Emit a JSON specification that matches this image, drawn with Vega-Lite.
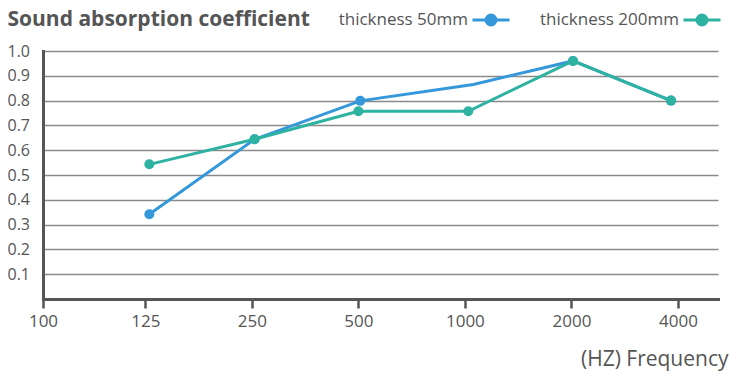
{
  "$schema": "https://vega.github.io/schema/vega-lite/v6.json",
  "width": 675,
  "height": 248,
  "autosize": "none",
  "padding": {"left": 43, "top": 51, "right": 13, "bottom": 73},
  "background": "white",
  "config": {"font": "Open Sans", "view": {"stroke": null}},
  "data": {
    "values": [
      {"series": "thickness 50mm", "freq": "125", "x": 1.038, "y": 0.342},
      {"series": "thickness 50mm", "freq": "250", "x": 2.026, "y": 0.644},
      {"series": "thickness 50mm", "freq": "500", "x": 3.018, "y": 0.799},
      {"series": "thickness 50mm", "freq": "1000", "x": 4.079, "y": 0.865},
      {"series": "thickness 50mm", "freq": "2000", "x": 5.015, "y": 0.96},
      {"series": "thickness 50mm", "freq": "4000", "x": 5.935, "y": 0.8},
      {"series": "thickness 200mm", "freq": "125", "x": 1.038, "y": 0.543},
      {"series": "thickness 200mm", "freq": "250", "x": 2.026, "y": 0.644},
      {"series": "thickness 200mm", "freq": "500", "x": 3.0, "y": 0.757},
      {"series": "thickness 200mm", "freq": "1000", "x": 4.032, "y": 0.757},
      {"series": "thickness 200mm", "freq": "2000", "x": 5.015, "y": 0.96},
      {"series": "thickness 200mm", "freq": "4000", "x": 5.935, "y": 0.8}
    ]
  },
  "encoding": {
    "x": {
      "field": "x",
      "type": "quantitative",
      "scale": {"domain": [0.04, 6.376], "nice": false, "zero": false},
      "axis": {
        "values": [0.04, 1, 2, 3, 4, 5, 6],
        "labelExpr": "['100','125','250','500','1000','2000','4000'][round(datum.value)]",
        "title": "(HZ) Frequency",
        "grid": false,
        "domainColor": "#555555",
        "domainWidth": 3,
        "domainCap": "square",
        "tickColor": "#555555",
        "tickWidth": 2.5,
        "tickSize": 9,
        "labelFontSize": 17,
        "labelColor": "#555555",
        "labelPadding": 5,
        "labelFlush": false,
        "labelOverlap": false,
        "titleAnchor": "end",
        "titleAlign": "right",
        "titleX": 685,
        "titleY": 66,
        "titleBaseline": "alphabetic",
        "titleFontSize": 21,
        "titleFontWeight": "normal",
        "titleColor": "#555555"
      }
    },
    "y": {
      "field": "y",
      "type": "quantitative",
      "scale": {"domain": [0, 1], "nice": false},
      "axis": {
        "values": [0.1, 0.2, 0.3, 0.4, 0.5, 0.6, 0.7, 0.8, 0.9, 1.0],
        "format": ".1f",
        "title": "Sound absorption coefficient",
        "titleAngle": 0,
        "titleAlign": "left",
        "titleBaseline": "alphabetic",
        "titleX": -36,
        "titleY": -26,
        "titleFontSize": 21,
        "titleFontWeight": "bold",
        "titleColor": "#555555",
        "grid": true,
        "gridColor": "#8a8a8a",
        "gridWidth": 1.6,
        "domainColor": "#555555",
        "domainWidth": 3,
        "domainCap": "square",
        "ticks": false,
        "tickSize": 0,
        "labelAlign": "left",
        "labelBaseline": "middle",
        "labelPadding": 36,
        "labelFontSize": 16,
        "labelColor": "#555555"
      }
    },
    "color": {
      "field": "series",
      "type": "nominal",
      "scale": {"domain": ["thickness 50mm", "thickness 200mm"], "range": ["#3498db", "#2eb2a2"]},
      "legend": {
        "orient": "none",
        "legendX": 428,
        "legendY": -51,
        "direction": "horizontal",
        "title": null,
        "symbolType": "M-1,0L1,0M-0.27,0A0.27,0.27 0 1,1 0.27,0A0.27,0.27 0 1,1 -0.27,0Z",
        "symbolSize": 1369,
        "symbolStrokeWidth": 3,
        "labelAlign": "right",
        "labelOffset": -43,
        "labelFontSize": 17,
        "labelColor": "#555555",
        "labelLimit": 0,
        "columnPadding": 23,
        "encode": {
          "symbols": {
            "update": {
              "fill": {"scale": "color", "field": "value"},
              "stroke": {"scale": "color", "field": "value"},
              "opacity": {"value": 1}
            }
          }
        }
      }
    }
  },
  "layer": [
    {"transform": [{"filter": "datum.series == 'thickness 50mm'"}], "mark": {"type": "line", "strokeWidth": 3}},
    {"transform": [{"filter": "datum.series == 'thickness 50mm' && datum.freq != '1000'"}], "mark": {"type": "circle", "size": 100, "opacity": 1}},
    {"transform": [{"filter": "datum.series == 'thickness 200mm'"}], "mark": {"type": "line", "strokeWidth": 3}},
    {"transform": [{"filter": "datum.series == 'thickness 200mm'"}], "mark": {"type": "circle", "size": 100, "opacity": 1}}
  ]
}
